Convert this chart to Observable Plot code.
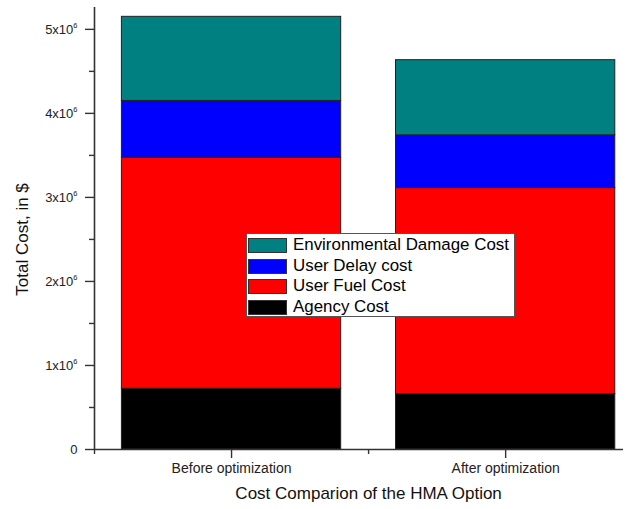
<!DOCTYPE html>
<html><head><meta charset="utf-8">
<script src="https://cdn.jsdelivr.net/npm/d3@7"></script>
<script src="https://cdn.jsdelivr.net/npm/@observablehq/plot@0.6"></script>
<style>
body{margin:0;background:#fff;}
#wrap{position:relative;width:629px;height:509px;font-family:"Liberation Sans",Arial,sans-serif;}
#legend{position:absolute;left:246px;top:233px;width:267px;height:81px;border:1px solid #555;background:#fff;padding-top:1px;}
.row{display:flex;align-items:center;height:20.7px;}
.sw{width:37px;height:13px;border:1px solid #333;margin-left:1px;margin-right:6px;flex:none;}
.lab{font-size:16.9px;color:#000;white-space:nowrap;line-height:20.7px;}
</style></head><body><div id="wrap"></div>
<script>
// ---- data ----
const categories = ["Before optimization", "After optimization"];
const xPositions = [1, 2];
const seriesNames = ["Agency Cost", "User Fuel Cost", "User Delay cost", "Environmental Damage Cost"];
const seriesColors = ["#000000", "#ff0000", "#0000ff", "#008080"];
const agencyCost = [0.723e6, 0.660e6];
const userFuelCost = [2.750e6, 2.451e6];
const userDelayCost = [0.675e6, 0.628e6];
const environmentalCost = [1.001e6, 0.894e6];
const yTickValues = [0, 1e6, 2e6, 3e6, 4e6, 5e6];
const yTickLabels = ["0", "1x10", "2x10", "3x10", "4x10", "5x10"];
const yExponent = "6";
const yMinorTicks = [0.5e6, 1.5e6, 2.5e6, 3.5e6, 4.5e6];
const xMinorTicks = [0.5, 1.5];
const xTitle = "Cost Comparion of the HMA Option";
const yTitle = "Total Cost, in $";

// ---- build stacked rows ----
const seriesValues = [agencyCost, userFuelCost, userDelayCost, environmentalCost];
const rows = [];
categories.forEach((c, ci) => {
  let base = 0;
  seriesValues.forEach((vals, si) => {
    rows.push({x: xPositions[ci], series: seriesNames[si], y1: base, y2: base + vals[ci]});
    base += vals[ci];
  });
});

const axisColor = "#333";
const chart = Plot.plot({
  width: 629,
  height: 509,
  marginLeft: 94,
  marginRight: 6,
  marginTop: 7,
  marginBottom: 60,
  style: {fontFamily: '"Liberation Sans", Arial, sans-serif', fontSize: "13px", background: "white", color: "#222"},
  x: {domain: [0.5, 2.43]},
  y: {domain: [0, 5.26e6]},
  color: {domain: seriesNames, range: seriesColors},
  marks: [
    Plot.rect(rows, {x1: d => d.x - 0.4, x2: d => d.x + 0.4, y1: "y1", y2: "y2", fill: "series", stroke: "#222", strokeWidth: 1}),
    Plot.ruleX([0.5], {stroke: axisColor, strokeWidth: 1.6}),
    Plot.ruleY([0], {stroke: axisColor, strokeWidth: 1.6}),
    Plot.axisY({ticks: yTickValues, tickSize: 9, tickPadding: 8, fontSize: 13, stroke: axisColor, strokeWidth: 1.4,
      tickFormat: d => yTickLabels[yTickValues.indexOf(d)], label: null}),
    Plot.axisY({ticks: yMinorTicks, tickSize: 5, stroke: axisColor, strokeWidth: 1.4, tickFormat: () => "", label: null}),
    Plot.axisX({ticks: xPositions, tickSize: 9, tickPadding: 5, fontSize: 14, stroke: axisColor, strokeWidth: 1.4,
      tickFormat: d => categories[xPositions.indexOf(d)], label: null}),
    Plot.axisX({ticks: xMinorTicks, tickSize: 5, stroke: axisColor, strokeWidth: 1.4, tickFormat: () => "", label: null}),
    Plot.text([xTitle], {x: d3.mean(xPositions), frameAnchor: "bottom", dy: 44, fontSize: 17, lineAnchor: "middle", textAnchor: "middle", fill: "#111"}),
    Plot.text([yTitle], {y: d3.mean(d3.extent(yTickValues)), frameAnchor: "left", dx: -72, rotate: -90, fontSize: 17, lineAnchor: "middle", textAnchor: "middle", fill: "#111"})
  ]
});

// tick label size + superscript exponents on y tick labels
const svgns = "http://www.w3.org/2000/svg";
chart.querySelectorAll('g[aria-label="y-axis tick label"]').forEach(g => g.setAttribute("font-size", "13"));
chart.querySelectorAll('g[aria-label="y-axis tick label"] text').forEach(t => {
  const s = t.textContent;
  t.style.fontSize = "13px";
  if (s && s !== "0") {
    const ts = document.createElementNS(svgns, "tspan");
    ts.setAttribute("dy", "-6");
    ts.style.fontSize = "7.5px";
    ts.textContent = yExponent;
    t.appendChild(ts);
  }
});

const wrap = document.getElementById("wrap");
wrap.appendChild(chart);

// legend (top to bottom: reverse stack order)
const legend = document.createElement("div");
legend.id = "legend";
seriesNames.slice().reverse().forEach((name) => {
  const row = document.createElement("div");
  row.className = "row";
  const sw = document.createElement("div");
  sw.className = "sw";
  sw.style.background = seriesColors[seriesNames.indexOf(name)];
  const lab = document.createElement("span");
  lab.className = "lab";
  lab.textContent = name;
  row.appendChild(sw);
  row.appendChild(lab);
  legend.appendChild(row);
});
wrap.appendChild(legend);
</script>
</body></html>
